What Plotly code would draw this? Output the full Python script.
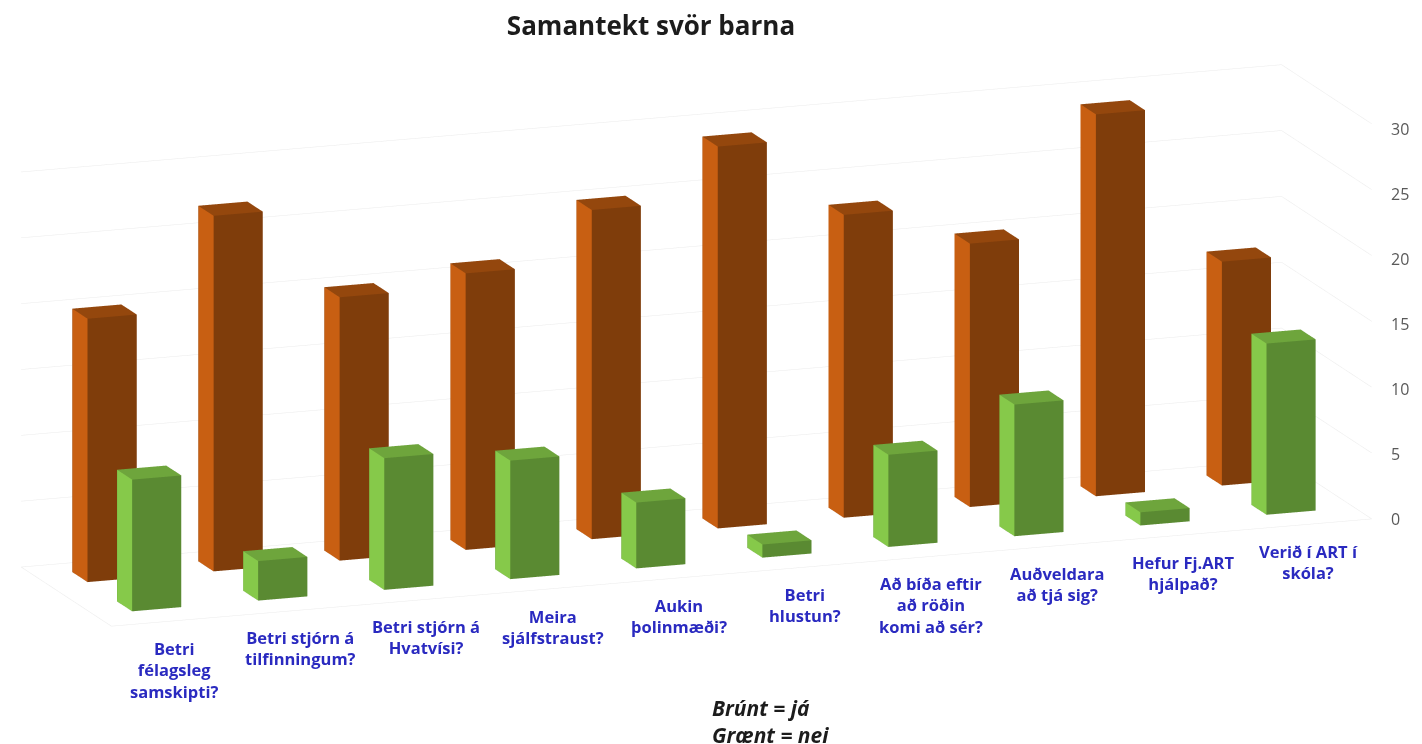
import numpy as np
import plotly.graph_objects as go

categories = ["Betri<br>félagsleg<br>samskipti?", "Betri stjórn á<br>tilfinningum?", "Betri stjórn á<br>Hvatvísi?",
              "Meira<br>sjálfstraust?", "Aukin<br>þolinmæði?", "Betri<br>hlustun?",
              "Að bíða eftir<br>að röðin<br>komi að sér?", "Auðveldara<br>að tjá sig?", "Hefur Fj.ART<br>hjálpað?",
              "Verið í ART í<br>skóla?"]
ja = [20, 27, 20, 21, 25, 29, 23, 20, 29, 17]
nei = [10, 3, 10, 9, 5, 1, 7, 10, 1, 13]
z_ticks = [0, 5, 10, 15, 20, 25, 30]
title_text = "Samantekt svör barna"
notes = ["Brúnt = já", "Grænt = nei"]

# target on-screen edge vectors of the plot box (px): x, depth, height
R1 = np.array([1257.0, -90.0, 0.0])
R2 = np.array([107.0, 59.0, 394.0])
w2 = R1[0]*R2[0] / (-R1[1]*R2[1])
w3 = ((R1[0]**2 - R2[0]**2) + (R1[1]**2 - R2[1]**2)*w2) / R2[2]**2
asp = np.array([1.0, 1/np.sqrt(w2), 1/np.sqrt(w3)])
s = np.linalg.norm(R1/asp)
eu, ev = (R1/asp)/s, (R2/asp)/s
ew = np.cross(eu, ev)
P = 371.0  # px per world unit, calibrated
asp = asp * s / P
K = 4.0
center = eu*(14.5/P) + ev*(-26.5/P)
eye = center + K*ew


def bars(values, y0, y1, front, side, top, name):
    xs, ys, zs, i, j, k, fc = [], [], [], [], [], [], []
    for n, v in enumerate(values):
        x0, x1 = n + 0.305, n + 0.695
        base = len(xs)
        xs += [x0, x1, x1, x0, x0, x1, x1, x0]
        ys += [y0, y0, y1, y1, y0, y0, y1, y1]
        zs += [0, 0, 0, 0, v, v, v, v]
        quads = [((0, 1, 5, 4), front), ((3, 0, 4, 7), side), ((4, 5, 6, 7), top),
                 ((1, 2, 6, 5), front), ((2, 3, 7, 6), front), ((0, 1, 2, 3), front)]
        for (a, b, c, d), col in quads:
            i += [base+a, base+a]
            j += [base+b, base+c]
            k += [base+c, base+d]
            fc += [col, col]
    return go.Mesh3d(x=xs, y=ys, z=zs, i=i, j=j, k=k, facecolor=fc, flatshading=True, name=name,
                     lighting=dict(ambient=1, diffuse=0, specular=0, roughness=1, fresnel=0),
                     hoverinfo="skip", showscale=False)


fig = go.Figure()
n = len(categories)
gx, gy, gz = [], [], []
for t in z_ticks:
    gx += [0, n, n, None]
    gy += [1, 1, 0, None]
    gz += [t, t, t, None]
gx += [0, n, None, 0, 0]
gy += [0, 0, None, 0, 1]
gz += [0, 0, None, 0, 0]
fig.add_trace(go.Scatter3d(x=gx, y=gy, z=gz, mode="lines", line=dict(color="#ebebeb", width=1),
                           hoverinfo="skip", showlegend=False))
fig.add_trace(bars(ja, 0.69, 0.86, "#7f3d0b", "#c85f12", "#94470d", "já"))
fig.add_trace(bars(nei, 0.196, 0.363, "#5a8a32", "#86c94a", "#6ea53c", "nei"))

ann = []
for q, c in enumerate(categories):
    ann.append(dict(x=q+0.5, y=0, z=0, text=c, showarrow=False, xanchor="center", yanchor="top", yshift=-14,
                    font=dict(family="Open Sans", size=16.5, color="#2a2ac0", weight="bold")))
for t in z_ticks:
    ann.append(dict(x=n, y=0, z=t, text=str(t), showarrow=False, xanchor="left", yanchor="middle", xshift=17,
                    yshift=-t/6,
                    font=dict(family="Open Sans", size=16, color="#595959")))

off = dict(visible=False, showgrid=False, zeroline=False, showspikes=False)
fig.update_layout(
    width=1422, height=744, margin=dict(l=0, r=0, t=0, b=0), paper_bgcolor="white", showlegend=False,
    title=dict(text=title_text, x=651/1422, xanchor="center", y=1-26/744, yanchor="middle",
               font=dict(family="Open Sans", size=26, color="#1c1c1c", weight="bold")),
    annotations=[dict(x=710/1422, y=1-721.5/744, xref="paper", yref="paper", text="<br>".join(notes), showarrow=False,
                      xanchor="left", yanchor="middle", align="left",
                      font=dict(family="Open Sans", size=21, color="#1c1c1c", weight="bold", style="italic"))],
    scene=dict(domain=dict(x=[0, 1], y=[0, 1]), aspectmode="manual",
               aspectratio=dict(x=asp[0], y=asp[1], z=asp[2]),
               xaxis=dict(range=[0, n], **off), yaxis=dict(range=[0, 1], **off), zaxis=dict(range=[0, 30], **off),
               bgcolor="white", annotations=ann,
               camera=dict(projection=dict(type="orthographic"),
                           eye=dict(x=eye[0], y=eye[1], z=eye[2]),
                           center=dict(x=center[0], y=center[1], z=center[2]),
                           up=dict(x=0, y=0, z=1))),
)
fig.write_html("out.html", config=dict(displayModeBar=False),
               post_script="document.body.style.margin='0';")
